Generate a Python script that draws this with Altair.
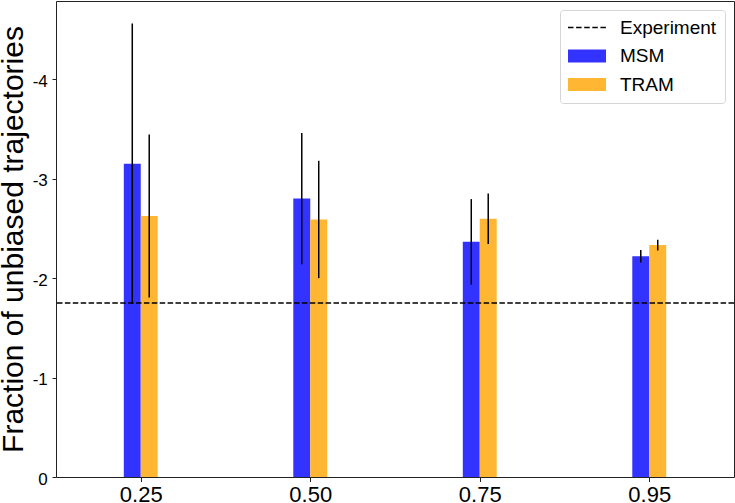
import altair as alt
import pandas as pd

categories = ["0.25", "0.50", "0.75", "0.95"]
msm_values = [-3.15, -2.80, -2.365, -2.22]
msm_errors = [1.41, 0.66, 0.43, 0.064]
tram_values = [-2.625, -2.59, -2.596, -2.332]
tram_errors = [0.82, 0.59, 0.254, 0.054]
experiment_value = -1.749
legend_entries = ["Experiment", "MSM", "TRAM"]
colors = ["#000000", "#3333FF", "#FFB733"]
y_ticks = [0, -1, -2, -3, -4]

rows = []
for i, c in enumerate(categories):
    rows.append(dict(cat=c, idx=i, series="MSM", value=msm_values[i], err=msm_errors[i]))
    rows.append(dict(cat=c, idx=i, series="TRAM", value=tram_values[i], err=tram_errors[i]))
df = pd.DataFrame(rows)
exp_df = pd.DataFrame({"v": [experiment_value]})

FONT = "Liberation Sans"
xscale = alt.Scale(domain=[-0.5, 3.5], nice=False, zero=False)
yscale = alt.Scale(domain=[0, -4.787], nice=False, zero=False)

label_array = "[" + ",".join("'%s'" % c for c in categories) + "]"
x_axis = alt.Axis(values=list(range(len(categories))), labelExpr=label_array + "[datum.value]",
                  title=None, grid=False, domain=False, labelFontSize=22, tickSize=4.5,
                  labelPadding=3, tickColor="#222", labelColor="black", labelFont=FONT)
y_axis = alt.Axis(values=y_ticks,
                  labelExpr="datum.value < 0 ? '-' + format(-datum.value, 'd') : format(datum.value, 'd')",
                  title="Fraction of unbiased trajectories", titleFontSize=30, titleFont=FONT,
                  titleFontWeight="normal", titleColor="black", titleAngle=270, titleX=-34,
                  titleY=238, titleBaseline="alphabetic", titleAlign="center",
                  grid=False, domain=False, labelFontSize=17, tickSize=4, labelPadding=4.7,
                  labelOffset=2, tickColor="#222", labelColor="black", labelFont=FONT)

# legend symbol paths (unit = sqrt(symbolSize)/2)
rect_path = "M-1,-0.684H3V0.684H-1Z"
dash_parts = []
for k in range(5):
    x0 = -1 + k * 0.853
    x1 = x0 + 0.579
    dash_parts.append("M%.3f,-0.079H%.3fV0.079H%.3fZ" % (x0, x1, x0))
dash_path = "".join(dash_parts)
sym_expr = "datum.value == 'Experiment' ? '%s' : '%s'" % (dash_path, rect_path)

base = alt.Chart(df).transform_calculate(
    x0="datum.series == 'MSM' ? datum.idx - 0.1 : datum.idx",
    x1="datum.series == 'MSM' ? datum.idx : datum.idx + 0.1",
    xc="datum.series == 'MSM' ? datum.idx - 0.05 : datum.idx + 0.05",
    lo="datum.value - datum.err",
    hi="datum.value + datum.err",
)

bars = base.mark_bar().encode(
    x=alt.X("x0:Q", scale=xscale, axis=x_axis),
    x2="x1:Q",
    y=alt.Y("value:Q", scale=yscale, axis=y_axis),
    y2=alt.datum(0),
    color=alt.Color("series:N", scale=alt.Scale(domain=legend_entries, range=colors),
                    legend=alt.Legend(title=None, symbolType=alt.ExprRef(expr=sym_expr))),
)

exp_line = alt.Chart(exp_df).mark_rule(color="black", strokeWidth=1.5, strokeDash=[5.5, 2.4]).encode(
    y=alt.Y("v:Q", scale=yscale),
)

errs = base.mark_rule(color="black", strokeWidth=1.5).encode(
    x=alt.X("xc:Q", scale=xscale),
    y=alt.Y("lo:Q", scale=yscale),
    y2="hi:Q",
)

chart = alt.layer(bars, exp_line, errs).properties(
    width=678, height=476,
    autosize=alt.AutoSizeParams(type="none"),
    padding={"left": 56, "top": 1, "right": 1, "bottom": 26},
).configure(font=FONT).configure_view(
    stroke="#222", strokeWidth=1
).configure_legend(
    orient="top-right", offset=9, padding=8, fillColor="white", strokeColor="#d5d5d5",
    cornerRadius=3, labelFontSize=19, labelFont=FONT, labelColor="black",
    symbolSize=361, symbolStrokeWidth=0, labelOffset=33, rowPadding=8.5, labelLimit=300,
    symbolOpacity=1,
)

chart.save("out.html", embed_options={"renderer": "svg", "actions": False})
